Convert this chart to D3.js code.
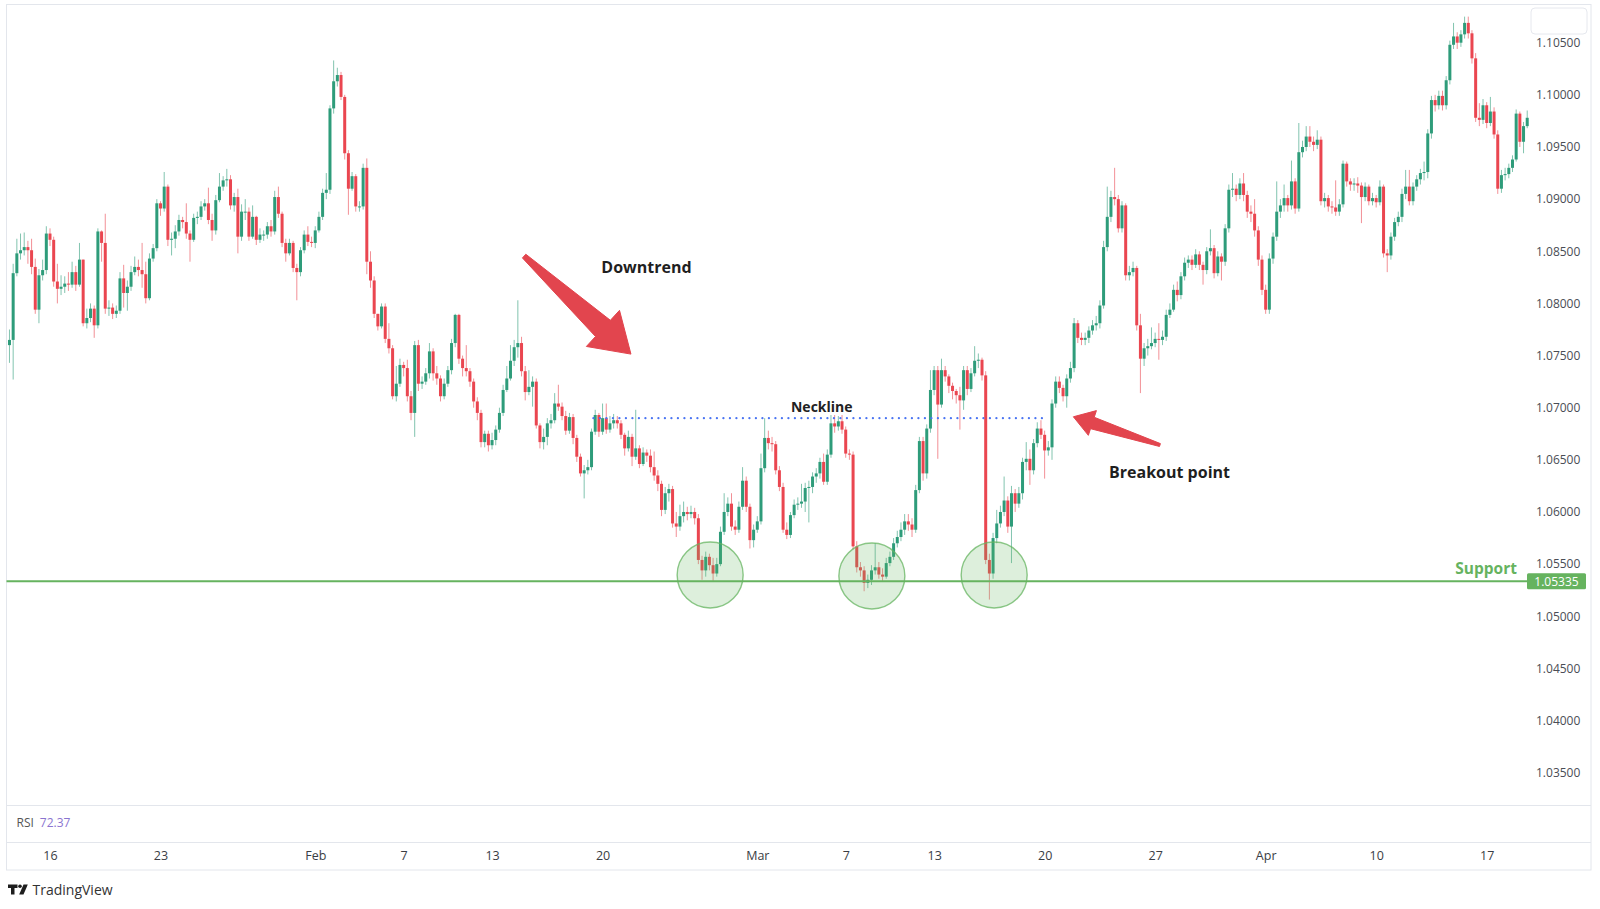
<!DOCTYPE html>
<html><head><meta charset="utf-8">
<script src="https://cdn.jsdelivr.net/npm/d3@7"></script>
<style>body{margin:0;background:#fff}svg{display:block}</style>
</head><body>
<svg id="chart" width="1600" height="909"></svg>
<script>
// ---------- DATA (EURUSD-style 4H candles) ----------
const firstOpen = 1.0760;
const closes = [
1.0765,1.0829,1.0848,1.0851,1.0854,1.0851,1.0835,1.0794,1.0827,1.0832,
1.0867,1.0861,1.0821,1.0814,1.0816,1.0819,1.0818,1.0830,1.0818,1.0842,
1.0781,1.0786,1.0795,1.0779,1.0869,1.0858,1.0795,1.0796,1.0790,1.0793,
1.0824,1.0810,1.0816,1.0830,1.0835,1.0832,1.0828,1.0805,1.0843,1.0853,
1.0896,1.0891,1.0912,1.0861,1.0862,1.0869,1.0880,1.0878,1.0867,1.0861,
1.0882,1.0883,1.0893,1.0896,1.0880,1.0870,1.0899,1.0912,1.0918,1.0919,
1.0894,1.0902,1.0864,1.0888,1.0888,1.0864,1.0883,1.0861,1.0866,1.0866,
1.0874,1.0869,1.0902,1.0886,1.0858,1.0848,1.0858,1.0834,1.0830,1.0851,
1.0866,1.0859,1.0858,1.0870,1.0883,1.0906,1.0909,1.0987,1.1013,1.1019,
1.0998,1.0944,1.0910,1.0922,1.0893,1.0893,1.0930,1.0840,1.0822,1.0790,
1.0778,1.0797,1.0766,1.0757,1.0711,1.0723,1.0741,1.0738,1.0711,1.0695,
1.0760,1.0723,1.0725,1.0733,1.0754,1.0733,1.0728,1.0711,1.0723,1.0736,
1.0762,1.0789,1.0747,1.0738,1.0735,1.0725,1.0706,1.0695,1.0667,1.0675,
1.0664,1.0669,1.0679,1.0695,1.0717,1.0728,1.0745,1.0758,1.0762,1.0735,
1.0715,1.0720,1.0725,1.0683,1.0667,1.0672,1.0685,1.0688,1.0704,1.0701,
1.0692,1.0678,1.0691,1.0671,1.0653,1.0637,1.0640,1.0643,1.0677,1.0693,
1.0677,1.0690,1.0679,1.0685,1.0688,1.0685,1.0674,1.0661,1.0672,1.0653,
1.0661,1.0646,1.0657,1.0654,1.0643,1.0635,1.0627,1.0602,1.0618,1.0622,
1.0589,1.0586,1.0596,1.0600,1.0598,1.0600,1.0594,1.0554,1.0544,1.0557,
1.0549,1.0541,1.0550,1.0581,1.0600,1.0608,1.0586,1.0583,1.0605,1.0630,
1.0605,1.0573,1.0583,1.0591,1.0642,1.0671,1.0666,1.0665,1.0640,1.0624,
1.0583,1.0578,1.0597,1.0607,1.0608,1.0610,1.0623,1.0624,1.0634,1.0637,
1.0648,1.0629,1.0655,1.0685,1.0682,1.0687,1.0679,1.0656,1.0655,1.0567,
1.0547,1.0544,1.0532,1.0535,1.0544,1.0547,1.0540,1.0538,1.0551,1.0557,
1.0570,1.0576,1.0583,1.0591,1.0588,1.0583,1.0621,1.0668,1.0637,1.0680,
1.0717,1.0736,1.0703,1.0736,1.0730,1.0721,1.0716,1.0712,1.0707,1.0736,
1.0718,1.0733,1.0745,1.0746,1.0731,1.0554,1.0541,1.0575,1.0589,1.0600,
1.0611,1.0586,1.0618,1.0608,1.0618,1.0648,1.0651,1.0640,1.0666,1.0680,
1.0674,1.0659,1.0662,1.0704,1.0725,1.0719,1.0711,1.0728,1.0738,1.0781,
1.0767,1.0765,1.0767,1.0774,1.0779,1.0781,1.0798,1.0854,1.0883,1.0902,
1.0900,1.0872,1.0894,1.0827,1.0830,1.0834,1.0779,1.0747,1.0757,1.0759,
1.0762,1.0766,1.0765,1.0768,1.0789,1.0794,1.0813,1.0808,1.0826,1.0839,
1.0842,1.0837,1.0847,1.0837,1.0832,1.0850,1.0853,1.0829,1.0845,1.0840,
1.0872,1.0909,1.0910,1.0904,1.0915,1.0904,1.0888,1.0886,1.0870,1.0842,
1.0813,1.0794,1.0843,1.0864,1.0888,1.0894,1.0901,1.0894,1.0917,1.0891,
1.0945,1.0950,1.0960,1.0955,1.0952,1.0957,1.0898,1.0901,1.0893,1.0892,
1.0888,1.0895,1.0934,1.0917,1.0914,1.0915,1.0913,1.0902,1.0912,1.0898,
1.0901,1.0897,1.0912,1.0848,1.0846,1.0864,1.0878,1.0883,1.0905,1.0912,
1.0898,1.0912,1.0919,1.0925,1.0926,1.0963,1.0995,1.0990,1.0999,1.0990,
1.1014,1.1048,1.1056,1.1050,1.1058,1.1069,1.1059,1.1035,1.0978,1.0976,
1.0990,1.0973,1.0984,1.0962,1.0910,1.0923,1.0924,1.0930,1.0938,1.0982,
1.0955,1.0970,1.0978];
const highs = [
1.0775,1.0838,1.0862,1.0867,1.0868,1.0860,1.0862,1.0843,1.0833,1.0842,
1.0874,1.0872,1.0864,1.0838,1.0827,1.0826,1.0830,1.0840,1.0836,1.0858,
1.0842,1.0795,1.0800,1.0798,1.0872,1.0870,1.0886,1.0803,1.0800,1.0798,
1.0830,1.0837,1.0822,1.0836,1.0845,1.0842,1.0858,1.0840,1.0848,1.0857,
1.0900,1.0898,1.0926,1.0914,1.0868,1.0875,1.0885,1.0883,1.0896,1.0870,
1.0886,1.0888,1.0898,1.0900,1.0911,1.0886,1.0904,1.0925,1.0922,1.0929,
1.0923,1.0906,1.0910,1.0895,1.0900,1.0892,1.0894,1.0884,1.0872,1.0870,
1.0878,1.0880,1.0908,1.0912,1.0888,1.0862,1.0862,1.0860,1.0838,1.0854,
1.0870,1.0874,1.0864,1.0874,1.0888,1.0910,1.0925,1.0990,1.1033,1.1026,
1.1022,1.1000,1.0947,1.0926,1.0924,1.0898,1.0934,1.0939,1.0850,1.0826,
1.0786,1.0800,1.0800,1.0781,1.0760,1.0740,1.0747,1.0744,1.0746,1.0716,
1.0764,1.0765,1.0730,1.0738,1.0762,1.0757,1.0740,1.0731,1.0728,1.0740,
1.0766,1.0790,1.0790,1.0750,1.0760,1.0738,1.0728,1.0710,1.0698,1.0678,
1.0678,1.0676,1.0683,1.0700,1.0722,1.0740,1.0760,1.0765,1.0803,1.0768,
1.0740,1.0736,1.0730,1.0728,1.0685,1.0680,1.0690,1.0694,1.0714,1.0722,
1.0705,1.0697,1.0695,1.0694,1.0674,1.0656,1.0645,1.0650,1.0680,1.0698,
1.0695,1.0704,1.0704,1.0692,1.0694,1.0692,1.0688,1.0676,1.0678,1.0675,
1.0698,1.0664,1.0662,1.0660,1.0660,1.0658,1.0640,1.0630,1.0624,1.0627,
1.0625,1.0600,1.0607,1.0610,1.0605,1.0606,1.0604,1.0598,1.0558,1.0562,
1.0560,1.0556,1.0556,1.0586,1.0618,1.0614,1.0618,1.0592,1.0610,1.0643,
1.0634,1.0608,1.0588,1.0596,1.0656,1.0690,1.0678,1.0672,1.0668,1.0644,
1.0628,1.0590,1.0600,1.0612,1.0614,1.0627,1.0628,1.0630,1.0638,1.0642,
1.0652,1.0656,1.0660,1.0693,1.0693,1.0692,1.0693,1.0682,1.0660,1.0658,
1.0572,1.0552,1.0548,1.0540,1.0549,1.0570,1.0552,1.0546,1.0556,1.0562,
1.0575,1.0582,1.0590,1.0598,1.0598,1.0594,1.0626,1.0672,1.0672,1.0684,
1.0736,1.0740,1.0740,1.0747,1.0740,1.0732,1.0724,1.0718,1.0720,1.0740,
1.0740,1.0738,1.0759,1.0752,1.0748,1.0735,1.0560,1.0580,1.0602,1.0606,
1.0634,1.0615,1.0625,1.0622,1.0624,1.0652,1.0667,1.0660,1.0670,1.0686,
1.0688,1.0678,1.0668,1.0708,1.0730,1.0730,1.0722,1.0732,1.0744,1.0786,
1.0784,1.0772,1.0772,1.0778,1.0784,1.0788,1.0803,1.0860,1.0912,1.0908,
1.0930,1.0904,1.0898,1.0896,1.0836,1.0840,1.0836,1.0790,1.0762,1.0766,
1.0777,1.0772,1.0781,1.0774,1.0794,1.0800,1.0818,1.0821,1.0830,1.0844,
1.0846,1.0846,1.0852,1.0850,1.0840,1.0854,1.0871,1.0856,1.0850,1.0848,
1.0876,1.0914,1.0925,1.0914,1.0920,1.0925,1.0908,1.0894,1.0900,1.0874,
1.0846,1.0818,1.0848,1.0868,1.0917,1.0900,1.0914,1.0904,1.0937,1.0920,
1.0973,1.0956,1.0970,1.0970,1.0960,1.0966,1.0960,1.0906,1.0904,1.0898,
1.0918,1.0900,1.0937,1.0936,1.0920,1.0920,1.0921,1.0916,1.0916,1.0914,
1.0906,1.0904,1.0918,1.0914,1.0852,1.0868,1.0882,1.0888,1.0910,1.0928,
1.0928,1.0916,1.0923,1.0929,1.0936,1.0967,1.0999,1.1000,1.1004,1.1004,
1.1018,1.1052,1.1069,1.1060,1.1062,1.1075,1.1075,1.1062,1.1040,1.0992,
1.0996,1.0993,1.0998,1.0988,1.0966,1.0928,1.0930,1.0934,1.0942,1.0986,
1.0984,1.0974,1.0985];
const lows = [
1.0743,1.0727,1.0826,1.0842,1.0846,1.0838,1.0828,1.0790,1.0781,1.0822,
1.0828,1.0855,1.0816,1.0800,1.0808,1.0810,1.0812,1.0815,1.0812,1.0816,
1.0778,1.0776,1.0782,1.0767,1.0776,1.0840,1.0790,1.0788,1.0785,1.0786,
1.0790,1.0796,1.0793,1.0812,1.0827,1.0826,1.0815,1.0800,1.0803,1.0840,
1.0850,1.0884,1.0888,1.0855,1.0846,1.0853,1.0865,1.0872,1.0862,1.0840,
1.0859,1.0876,1.0880,1.0889,1.0876,1.0860,1.0866,1.0897,1.0908,1.0912,
1.0890,1.0888,1.0848,1.0860,1.0880,1.0860,1.0862,1.0856,1.0858,1.0860,
1.0862,1.0864,1.0866,1.0882,1.0854,1.0840,1.0846,1.0830,1.0803,1.0826,
1.0848,1.0855,1.0854,1.0853,1.0868,1.0880,1.0900,1.0905,1.0982,1.1008,
1.0995,1.0938,1.0885,1.0908,1.0888,1.0888,1.0890,1.0828,1.0815,1.0786,
1.0774,1.0776,1.0762,1.0752,1.0708,1.0706,1.0720,1.0730,1.0706,1.0688,
1.0672,1.0716,1.0718,1.0722,1.0728,1.0726,1.0722,1.0706,1.0708,1.0720,
1.0732,1.0758,1.0742,1.0730,1.0730,1.0720,1.0700,1.0688,1.0662,1.0662,
1.0658,1.0660,1.0664,1.0676,1.0692,1.0715,1.0726,1.0740,1.0748,1.0730,
1.0707,1.0712,1.0701,1.0680,1.0661,1.0660,1.0664,1.0680,1.0685,1.0697,
1.0688,1.0674,1.0675,1.0665,1.0648,1.0634,1.0613,1.0636,1.0640,1.0674,
1.0672,1.0674,1.0675,1.0676,1.0680,1.0680,1.0670,1.0654,1.0658,1.0644,
1.0650,1.0642,1.0644,1.0648,1.0638,1.0630,1.0620,1.0596,1.0598,1.0610,
1.0585,1.0576,1.0582,1.0590,1.0592,1.0594,1.0588,1.0550,1.0535,1.0538,
1.0544,1.0534,1.0538,1.0548,1.0578,1.0596,1.0582,1.0578,1.0580,1.0602,
1.0600,1.0565,1.0566,1.0580,1.0588,1.0638,1.0660,1.0658,1.0636,1.0620,
1.0580,1.0574,1.0575,1.0594,1.0602,1.0604,1.0600,1.0590,1.0618,1.0628,
1.0632,1.0626,1.0626,1.0652,1.0676,1.0678,1.0675,1.0652,1.0650,1.0564,
1.0542,1.0538,1.0524,1.0527,1.0530,1.0540,1.0536,1.0534,1.0536,1.0548,
1.0554,1.0566,1.0572,1.0578,1.0582,1.0576,1.0580,1.0618,1.0630,1.0632,
1.0676,1.0712,1.0651,1.0700,1.0725,1.0714,1.0708,1.0704,1.0679,1.0698,
1.0712,1.0715,1.0730,1.0738,1.0726,1.0550,1.0516,1.0536,1.0570,1.0585,
1.0596,1.0580,1.0551,1.0600,1.0604,1.0612,1.0640,1.0626,1.0636,1.0662,
1.0670,1.0632,1.0654,1.0650,1.0700,1.0714,1.0706,1.0700,1.0724,1.0734,
1.0762,1.0760,1.0760,1.0762,1.0770,1.0774,1.0776,1.0795,1.0850,1.0878,
1.0894,1.0868,1.0868,1.0822,1.0822,1.0826,1.0774,1.0714,1.0740,1.0750,
1.0756,1.0758,1.0746,1.0760,1.0764,1.0786,1.0792,1.0802,1.0804,1.0822,
1.0834,1.0832,1.0834,1.0832,1.0818,1.0828,1.0846,1.0824,1.0826,1.0822,
1.0836,1.0868,1.0902,1.0898,1.0900,1.0898,1.0882,1.0878,1.0864,1.0836,
1.0808,1.0790,1.0790,1.0838,1.0860,1.0882,1.0888,1.0888,1.0890,1.0886,
1.0888,1.0940,1.0946,1.0950,1.0946,1.0948,1.0894,1.0892,1.0888,1.0886,
1.0884,1.0884,1.0892,1.0912,1.0908,1.0908,1.0906,1.0877,1.0898,1.0894,
1.0894,1.0892,1.0894,1.0844,1.0830,1.0842,1.0860,1.0874,1.0878,1.0900,
1.0894,1.0894,1.0908,1.0914,1.0918,1.0920,1.0958,1.0984,1.0986,1.0985,
1.0986,1.1010,1.1044,1.1044,1.1046,1.1054,1.1054,1.1030,1.0974,1.0970,
1.0972,1.0968,1.0970,1.0958,1.0905,1.0906,1.0918,1.0920,1.0926,1.0936,
1.0950,1.0944,1.0968];

// time axis: candle index of each labelled session start
const tickIndex  = [11, 41, 83, 107, 131, 161, 203, 227, 251, 281, 311, 341, 371, 401];
const tickLabels = ["16","23","Feb","7","13","20","Mar","7","13","20","27","Apr","10","17"];
const priceTicks = [1.035,1.040,1.045,1.050,1.055,1.060,1.065,1.070,1.075,1.080,1.085,1.090,1.095,1.100,1.105];

const supportLevel = 1.05335;
const supportText = "Support";
const necklineLevel = 1.0690;
const necklineSpan = [158.5, 282];
const necklineText = {i: 220.5, p: 1.07009, t: "Neckline"};
const touchCircles = [{i: 190.2, p: 1.05396}, {i: 234.1, p: 1.05386}, {i: 267.3, p: 1.05396}];
const arrows = [
  {from: {i: 139.7, p: 1.08454}, to: {i: 168.7, p: 1.07514}, tailW: 5, shaftW: 22, headW: 49, headLen: 38},
  {from: {i: 312.3, p: 1.06642}, to: {i: 288.8, p: 1.06913}, tailW: 3, shaftW: 12, headW: 26, headLen: 20}
];
const labels = [
  {i: 172.9, p: 1.08352, t: "Downtrend"},
  {i: 314.9, p: 1.06385, t: "Breakout point"}
];
const rsiName = "RSI", rsiValue = "72.37";

// ---------- LAYOUT ----------
const W = 1600, H = 909;
const plotL = 6.5, plotR = 1529, plotT = 4.5, plotB = 805;
const axisR = 1591, timeTop = 842, frameB = 870;
const upCol = "#2e9c7a", downCol = "#ea4650";
const green = "#66b35f";
const font = "'Open Sans', 'DejaVu Sans', sans-serif";

const svg = d3.select("#chart");
const xs = d3.scaleLinear().domain([11, 401]).range([50, 1486.7]);
const ys = d3.scaleLinear().domain([1.035, 1.105]).range([772.7, 42.7]);

svg.append("rect").attr("width", W).attr("height", H).attr("fill", "#fff");

// frame
const frame = svg.append("g").attr("stroke", "#e3e6ec").attr("fill", "none").attr("stroke-width", 1);
frame.append("rect").attr("x", plotL).attr("y", plotT).attr("width", axisR - plotL).attr("height", frameB - plotT);
frame.append("line").attr("x1", plotL).attr("x2", axisR).attr("y1", plotB + 0.5).attr("y2", plotB + 0.5);
frame.append("line").attr("x1", plotL).attr("x2", axisR).attr("y1", timeTop + 0.5).attr("y2", timeTop + 0.5);

// top-right empty box
svg.append("rect").attr("x", 1531).attr("y", 8).attr("width", 56).attr("height", 26).attr("rx", 4)
  .attr("fill", "#fff").attr("stroke", "#e6e8ee");

svg.append("defs").append("clipPath").attr("id", "plotclip")
  .append("rect").attr("x", plotL).attr("y", plotT).attr("width", plotR - plotL).attr("height", plotB - plotT);

// candles
const candles = closes.map((c, i) => {
  const o = i === 0 ? firstOpen : closes[i - 1];
  return {i, o, c, h: Math.max(highs[i], o, c), l: Math.min(lows[i], o, c)};
});
const gC = svg.append("g").attr("clip-path", "url(#plotclip)");
gC.selectAll("line.wick").data(candles).join("line")
  .attr("x1", d => xs(d.i)).attr("x2", d => xs(d.i))
  .attr("y1", d => ys(d.h)).attr("y2", d => ys(d.l))
  .attr("stroke", d => d.c >= d.o ? upCol : downCol)
  .attr("stroke-opacity", 0.6).attr("stroke-width", 1);
const bodyW = 3;
gC.selectAll("rect.body").data(candles).join("rect")
  .attr("x", d => xs(d.i) - bodyW / 2).attr("width", bodyW)
  .attr("y", d => ys(Math.max(d.o, d.c)))
  .attr("height", d => Math.max(1, Math.abs(ys(d.o) - ys(d.c))))
  .attr("fill", d => d.c >= d.o ? upCol : downCol);

// touch circles
svg.append("g").selectAll("circle").data(touchCircles).join("circle")
  .attr("cx", d => xs(d.i)).attr("cy", d => ys(d.p)).attr("r", 33)
  .attr("fill", "rgba(102,180,96,0.22)").attr("stroke", "rgba(102,180,96,0.75)").attr("stroke-width", 1.4);

// support line
svg.append("line").attr("x1", plotL).attr("x2", 1527).attr("y1", ys(supportLevel)).attr("y2", ys(supportLevel))
  .attr("stroke", green).attr("stroke-width", 2);
svg.append("text").attr("x", 1517).attr("y", ys(supportLevel) - 13.5).attr("text-anchor", "end")
  .attr("dominant-baseline", "central").attr("font-family", font).attr("font-weight", 700)
  .attr("font-size", 15.5).attr("fill", green).text(supportText);

// neckline
svg.append("line").attr("x1", xs(necklineSpan[0])).attr("x2", xs(necklineSpan[1]))
  .attr("y1", ys(necklineLevel)).attr("y2", ys(necklineLevel))
  .attr("stroke", "#4a74f2").attr("stroke-width", 2.2).attr("stroke-linecap", "round")
  .attr("stroke-dasharray", "0.1,6.4");
svg.append("text").attr("x", xs(necklineText.i)).attr("y", ys(necklineText.p))
  .attr("text-anchor", "middle").attr("dominant-baseline", "central")
  .attr("font-family", font).attr("font-weight", 700).attr("font-size", 14).attr("fill", "#222")
  .text(necklineText.t);

// arrows
function arrowPts(a) {
  const tx = xs(a.from.i), ty = ys(a.from.p), px = xs(a.to.i), py = ys(a.to.p);
  const len = Math.hypot(px - tx, py - ty), ux = (px - tx) / len, uy = (py - ty) / len;
  const nx = -uy, ny = ux;
  const bx = px - ux * a.headLen, by = py - uy * a.headLen;
  return [
    [tx + nx * a.tailW / 2, ty + ny * a.tailW / 2],
    [bx + nx * a.shaftW / 2, by + ny * a.shaftW / 2],
    [bx + nx * a.headW / 2, by + ny * a.headW / 2],
    [px, py],
    [bx - nx * a.headW / 2, by - ny * a.headW / 2],
    [bx - nx * a.shaftW / 2, by - ny * a.shaftW / 2],
    [tx - nx * a.tailW / 2, ty - ny * a.tailW / 2]
  ];
}
svg.append("g").selectAll("path").data(arrows).join("path")
  .attr("d", d => "M" + arrowPts(d).map(p => p.join(",")).join("L") + "Z")
  .attr("fill", "#e2454e").attr("stroke", "#e2454e").attr("stroke-width", 1).attr("stroke-linejoin", "round");

svg.append("g").selectAll("text").data(labels).join("text")
  .attr("x", d => xs(d.i)).attr("y", d => ys(d.p)).attr("text-anchor", "middle")
  .attr("dominant-baseline", "central").attr("font-family", font).attr("font-weight", 700)
  .attr("font-size", 16).attr("fill", "#1f1f1f").text(d => d.t);

// price axis
const yAxis = svg.append("g").attr("transform", "translate(1536,0)")
  .call(d3.axisRight(ys).tickValues(priceTicks).tickFormat(d3.format(".5f")).tickSize(0).tickPadding(0));
yAxis.select(".domain").remove();
yAxis.selectAll("text").attr("font-family", font).attr("font-size", 12).attr("fill", "#4a4d55");

// support price label
svg.append("rect").attr("x", 1527).attr("y", ys(supportLevel) - 8).attr("width", 59).attr("height", 16)
  .attr("rx", 1.5).attr("fill", green);
svg.append("text").attr("x", 1556.5).attr("y", ys(supportLevel)).attr("text-anchor", "middle")
  .attr("dominant-baseline", "central").attr("font-family", font).attr("font-size", 12)
  .attr("fill", "#fff").text(d3.format(".5f")(supportLevel));

// time axis
const xAxis = svg.append("g").attr("transform", `translate(0,${timeTop})`)
  .call(d3.axisBottom(xs).tickValues(tickIndex).tickFormat((d, i) => tickLabels[i]).tickSize(0).tickPadding(9.5));
xAxis.select(".domain").remove();
xAxis.selectAll("text").attr("font-family", font).attr("font-size", 12.5).attr("fill", "#3a3d44");

// RSI legend
const rsi = svg.append("text").attr("x", 16.5).attr("y", 822).attr("dominant-baseline", "central")
  .attr("font-family", font).attr("font-size", 12);
rsi.append("tspan").attr("fill", "#555").text(rsiName);
rsi.append("tspan").attr("dx", 6).attr("fill", "#8a74d0").text(rsiValue);

// TradingView logo
const logo = svg.append("g").attr("fill", "#1e1e1e");
logo.append("path").attr("d", "M8,884.5h9.5v3.4h-3v6.6h-3.5v-6.6h-3z");
logo.append("circle").attr("cx", 20).attr("cy", 886.3).attr("r", 1.8);
logo.append("path").attr("d", "M23.5,884.5h4.3l-4.3,10h-4.3z");
svg.append("text").attr("x", 32.5).attr("y", 889.5).attr("dominant-baseline", "central")
  .attr("font-family", font).attr("font-size", 14).attr("fill", "#333").text("TradingView");
</script>
</body></html>
